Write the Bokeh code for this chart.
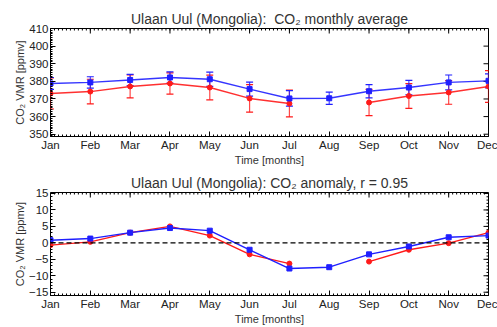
import math
from bokeh.plotting import figure
from bokeh.models import (FixedTicker, Range1d, Whisker, ColumnDataSource,
                          Span, TeeHead)
from bokeh.layouts import column
from bokeh.embed import file_html
from bokeh.resources import INLINE

nan = float("nan")

# ---------------- data ----------------
months = ["Jan", "Feb", "Mar", "Apr", "May", "Jun", "Jul", "Aug", "Sep", "Oct", "Nov", "Dec"]
month_num = [1, 2, 3, 4, 5, 6, 7, 8, 9, 10, 11, 12]

blue_avg = [378.8, 379.4, 380.8, 382.2, 381.2, 375.6, 370.3, 370.4, 374.4, 376.5, 379.4, 380.3]
blue_err = [3.4, 3.2, 3.2, 3.2, 4.0, 4.0, 4.4, 3.5, 3.8, 4.1, 4.2, 4.0]
red_avg = [373.1, 374.2, 377.1, 378.8, 376.5, 370.3, 367.4, nan, 368.0, 371.7, 373.7, 377.1]
red_err = [8.8, 7.0, 6.5, 6.0, 7.0, 7.8, 7.6, nan, 7.5, 7.0, 6.7, 9.0]

blue_anom = [0.8, 1.3, 3.1, 4.5, 3.7, -2.1, -7.8, -7.4, -3.5, -1.1, 1.7, 2.2]
red_anom = [-0.7, 0.3, 3.1, 5.0, 2.2, -3.5, -6.3, nan, -5.7, -2.1, -0.1, 3.1]

top_ticks = [350, 360, 370, 380, 390, 400, 410]
top_minor = list(range(349, 411))
bot_ticks = [-15, -10, -5, 0, 5, 10, 15]
bot_minor = list(range(-16, 16))
x_minor = [1 + i / 10 for i in range(0, 111)]

BLUE = "#1f1fff"
RED = "#ff1a1a"
FONT = "Liberation Sans"
TXT = "#222222"


def err_source(x, y, e):
    xs, up, lo = [], [], []
    for xi, yi, ei in zip(x, y, e):
        if not (math.isnan(yi) or math.isnan(ei)):
            xs.append(xi)
            up.append(yi + ei)
            lo.append(yi - ei)
    return ColumnDataSource(dict(x=xs, upper=up, lower=lo))


def style(p, yticks, yminor, right_minor, title_text):
    p.title.text = title_text
    p.title.align = "center"
    p.title.text_font = FONT
    p.title.text_font_size = "14px"
    p.title.text_font_style = "normal"
    p.title.text_color = "#333333"
    p.title.standoff = 3
    p.xgrid.visible = False
    p.ygrid.visible = False
    p.outline_line_color = "black"
    p.outline_line_width = 1

    xa = p.xaxis[0]
    xa.ticker = FixedTicker(ticks=month_num, minor_ticks=x_minor)
    xa.major_label_overrides = {m: lab for m, lab in zip(month_num, months)}
    ya = p.yaxis[0]
    ya.ticker = FixedTicker(ticks=yticks, minor_ticks=yminor)
    for ax in (xa, ya):
        ax.axis_line_color = None
        ax.major_tick_in = 5
        ax.major_tick_out = 0
        ax.minor_tick_in = 2
        ax.minor_tick_out = 0
        ax.major_tick_line_color = "black"
        ax.minor_tick_line_color = "black"
        ax.major_label_text_font = FONT
        ax.major_label_text_font_size = "11.5px"
        ax.major_label_text_color = TXT
        ax.axis_label_text_font = FONT
        ax.axis_label_text_font_size = "11px"
        ax.axis_label_text_font_style = "normal"
        ax.axis_label_text_color = "#333333"
        ax.major_label_standoff = 2
        ax.axis_label_standoff = 0
    xa.axis_label = "Time [months]"
    ya.axis_label = "CO\u2082 VMR [ppmv]"

    # mirrored ticks on top and right edges of the frame
    yend = p.y_range.end
    xend = p.x_range.end
    p.ray(x=month_num, y=[yend] * len(month_num), length=5, angle=-math.pi / 2,
          length_units="screen", line_color="black", line_width=1)
    p.ray(x=x_minor, y=[yend] * len(x_minor), length=2, angle=-math.pi / 2,
          length_units="screen", line_color="black", line_width=1)
    p.ray(x=[xend] * len(yticks), y=yticks, length=5, angle=math.pi,
          length_units="screen", line_color="black", line_width=1)
    if right_minor:
        p.ray(x=[xend] * len(yminor), y=yminor, length=2, angle=math.pi,
              length_units="screen", line_color="black", line_width=1)


W = 497

# ---------------- top panel ----------------
p1 = figure(width=W, height=168, output_backend="svg", toolbar_location=None,
            x_range=Range1d(1, 12), y_range=Range1d(348.7, 410),
            min_border_left=50, min_border_right=9, min_border_top=28, min_border_bottom=30)
style(p1, top_ticks, top_minor, False, "Ulaan Uul (Mongolia):\u00a0 CO\u2082 monthly average")

bs = err_source(month_num, blue_avg, blue_err)
rs = err_source(month_num, red_avg, red_err)
for src, col in ((rs, RED), (bs, BLUE)):
    w = Whisker(base="x", upper="upper", lower="lower", source=src,
                line_color=col, line_width=1.2, line_alpha=0.8,
                upper_head=TeeHead(size=7, line_color=col, line_width=1.2),
                lower_head=TeeHead(size=7, line_color=col, line_width=1.2))
    p1.add_layout(w)

p1.line(month_num, red_avg, line_color=RED, line_width=1.4, line_alpha=0.9)
p1.line(month_num, blue_avg, line_color=BLUE, line_width=1.4, line_alpha=0.9)
p1.scatter(month_num, red_avg, marker="circle", size=5, color=RED)
p1.scatter(month_num, blue_avg, marker="square", size=5, color=BLUE)

# ---------------- bottom panel ----------------
p2 = figure(width=W, height=159, output_backend="svg", toolbar_location=None,
            x_range=Range1d(1, 12), y_range=Range1d(-16, 15.3),
            min_border_left=50, min_border_right=9, min_border_top=24, min_border_bottom=28)
style(p2, bot_ticks, bot_minor, True, "Ulaan Uul (Mongolia): CO\u2082 anomaly, r = 0.95")

p2.add_layout(Span(location=0, dimension="width", line_color="black",
                   line_dash="5 3", line_width=1.2))
p2.line(month_num, red_anom, line_color=RED, line_width=1.4)
p2.line(month_num, blue_anom, line_color=BLUE, line_width=1.4)
p2.scatter(month_num, red_anom, marker="circle", size=5, color=RED)
p2.scatter(month_num, blue_anom, marker="square", size=5, color=BLUE)

layout = column(p1, p2, spacing=0)
open("out.html", "w").write(file_html(layout, INLINE))
